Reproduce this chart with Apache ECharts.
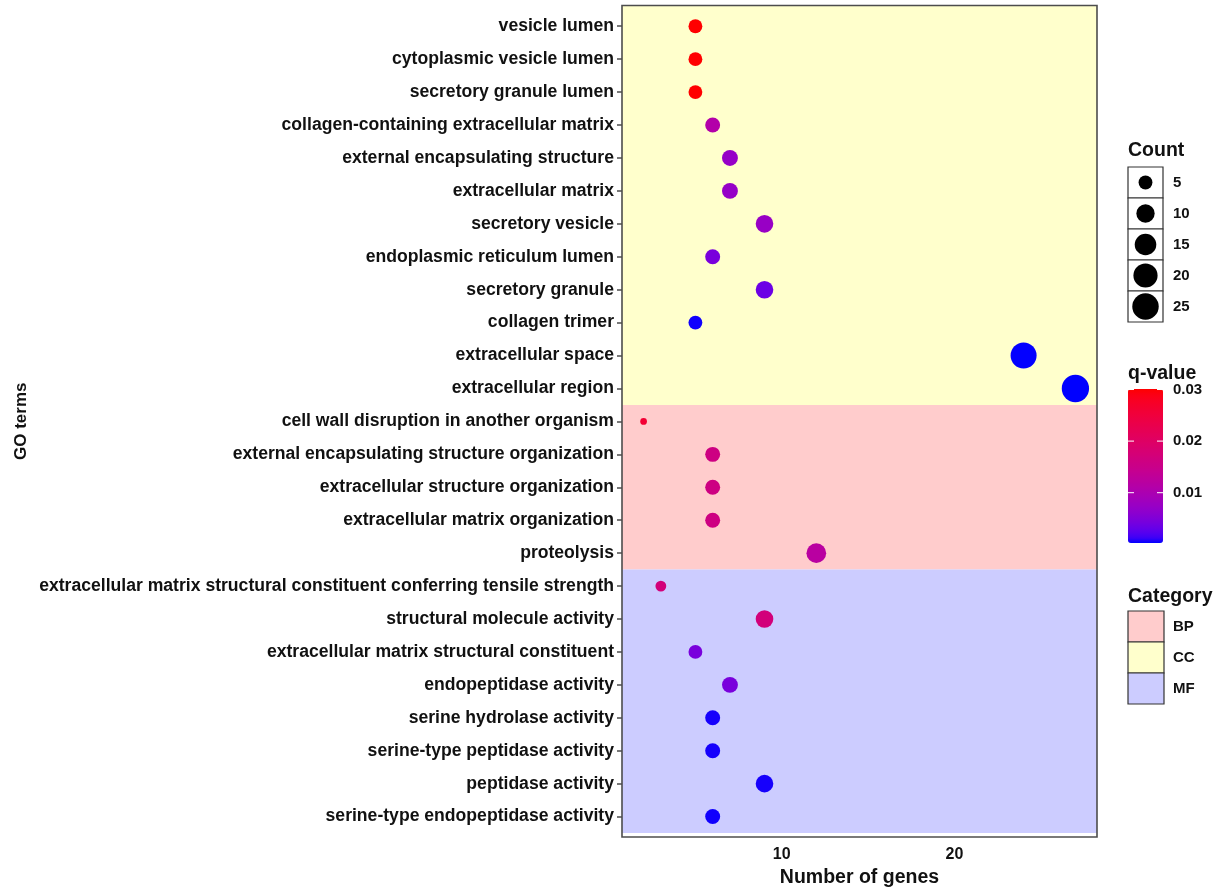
<!DOCTYPE html>
<html><head><meta charset="utf-8">
<script src="https://cdn.jsdelivr.net/npm/echarts@6/dist/echarts.min.js"></script>
<style>html,body{margin:0;padding:0;background:#fff}#c{width:1225px;height:888px}</style>
</head><body><div id="c"></div>
<script>
// ---------------- data ----------------
const terms = [
  'vesicle lumen',
  'cytoplasmic vesicle lumen',
  'secretory granule lumen',
  'collagen-containing extracellular matrix',
  'external encapsulating structure',
  'extracellular matrix',
  'secretory vesicle',
  'endoplasmic reticulum lumen',
  'secretory granule',
  'collagen trimer',
  'extracellular space',
  'extracellular region',
  'cell wall disruption in another organism',
  'external encapsulating structure organization',
  'extracellular structure organization',
  'extracellular matrix organization',
  'proteolysis',
  'extracellular matrix structural constituent conferring tensile strength',
  'structural molecule activity',
  'extracellular matrix structural constituent',
  'endopeptidase activity',
  'serine hydrolase activity',
  'serine-type peptidase activity',
  'peptidase activity',
  'serine-type endopeptidase activity'
];
const counts = [5, 5, 5, 6, 7, 7, 9, 6, 9, 5, 24, 27, 2, 6, 6, 6, 12, 3, 9, 5, 7, 6, 6, 9, 6];
const qvalues = [0.0301, 0.0301, 0.0301, 0.011, 0.0072, 0.0072, 0.0075, 0.0045, 0.0035, 0.0005, 0.0003, 0.00025,
                 0.026, 0.016, 0.016, 0.016, 0.012, 0.017, 0.017, 0.0045, 0.0045, 0.0006, 0.0006, 0.0006, 0.0005];
const categories = ['CC','CC','CC','CC','CC','CC','CC','CC','CC','CC','CC','CC',
                    'BP','BP','BP','BP','BP',
                    'MF','MF','MF','MF','MF','MF','MF','MF'];
const xTicks = [10, 20];
const sizeBreaks = [5, 10, 15, 20, 25];
const qTicks = [0.03, 0.02, 0.01];
const catLevels = ['BP', 'CC', 'MF'];
const catColors = {BP: '#FFCCCC', CC: '#FFFFCC', MF: '#CCCCFF'};

// ---------------- helpers ----------------
const FONT = 'Liberation Sans, Arial, sans-serif';
const cMin = Math.min(...counts), cMax = Math.max(...counts);
function sizeFn(v) { return 6.7 + 20.6 * Math.sqrt(Math.max(0, (v - cMin) / (cMax - cMin))); }
const qMin = Math.min(...qvalues), qMax = Math.max(...qvalues);

function s2l(c){c/=255;return c<=0.04045?c/12.92:Math.pow((c+0.055)/1.055,2.4);}
function l2s(c){c=c<=0.0031308?12.92*c:1.055*Math.pow(c,1/2.4)-0.055;return Math.round(Math.max(0,Math.min(1,c))*255);}
const Xn=0.95047,Yn=1,Zn=1.08883,d0=6/29;
function ff(t){return t>d0*d0*d0?Math.cbrt(t):t/(3*d0*d0)+4/29;}
function fi(t){return t>d0?t*t*t:3*d0*d0*(t-4/29);}
function rgb2lab(rgb){const r=s2l(rgb[0]),g=s2l(rgb[1]),b=s2l(rgb[2]);
  const X=0.4124*r+0.3576*g+0.1805*b,Y=0.2126*r+0.7152*g+0.0722*b,Z=0.0193*r+0.1192*g+0.9505*b;
  const fx=ff(X/Xn),fy=ff(Y/Yn),fz=ff(Z/Zn);return [116*fy-16,500*(fx-fy),200*(fy-fz)];}
function lab2rgb(l){const fy=(l[0]+16)/116,fx=fy+l[1]/500,fz=fy-l[2]/200;
  const X=Xn*fi(fx),Y=Yn*fi(fy),Z=Zn*fi(fz);
  const r=3.2406*X-1.5372*Y-0.4986*Z,g=-0.9689*X+1.8758*Y+0.0415*Z,b=0.0557*X-0.2040*Y+1.0570*Z;
  return 'rgb('+l2s(r)+','+l2s(g)+','+l2s(b)+')';}
const labLo = rgb2lab([0,0,255]), labHi = rgb2lab([255,0,0]);
const gradStops = [];
for (let i = 0; i <= 30; i++) { const t = i/30; gradStops.push(lab2rgb([0,1,2].map(k => labLo[k] + (labHi[k]-labLo[k])*t))); }

// ---------------- layout ----------------
const G = {left: 622, top: 5.5, width: 475, height: 831.5};
const X_MIN = 0.75, X_MAX = 28.25;
const Y_MIN = -0.63, Y_MAX = 24.62;

// category blocks from data
const blocks = [];
categories.forEach((c, i) => {
  const last = blocks[blocks.length - 1];
  if (last && last[2] === c) last[1] = i + 0.5;
  else blocks.push([i - 0.5, i + 0.5, c]);
});
blocks[0][0] = Y_MIN;

const scatterData = counts.map((c, i) => [c, i, qvalues[i]]);
const idx = terms.map((t, i) => i);

// legend graphics
const graphics = [];
const LX = 1128, BW = 35, BH = 31;
function title(txt, y) { graphics.push({type:'text', x: LX, y: y, style:{text: txt, font: 'bold 19.5px ' + FONT, fill:'#111', textVerticalAlign:'middle'}}); }
function lab(txt, y) { graphics.push({type:'text', x: 1173, y: y, style:{text: txt, font: 'bold 15px ' + FONT, fill:'#111', textVerticalAlign:'middle'}}); }
title('Count', 151);
sizeBreaks.forEach((b, i) => {
  const y0 = 167 + i * BH;
  graphics.push({type:'rect', shape:{x: LX, y: y0, width: BW, height: BH}, style:{fill:'#fff', stroke:'#333', lineWidth:1.2}});
  graphics.push({type:'circle', shape:{cx: LX + BW/2, cy: y0 + BH/2, r: sizeFn(b)/2}, style:{fill:'#000'}});
  lab(String(b), y0 + BH/2);
});
title('q-value', 374);
const CB_TOP = 389, CB_H = 154;
qTicks.forEach(q => {
  const y = CB_TOP + CB_H - (q - qMin) / (qMax - qMin) * CB_H;
  lab(String(q), y);
  graphics.push({type:'line', z: 100, shape:{x1: LX, y1: y, x2: LX + 6, y2: y}, style:{stroke:'#fff', lineWidth:1}});
  graphics.push({type:'line', z: 100, shape:{x1: LX + BW - 6, y1: y, x2: LX + BW, y2: y}, style:{stroke:'#fff', lineWidth:1}});
});
title('Category', 597);
catLevels.forEach((c, i) => {
  const y0 = 611 + i * BH;
  graphics.push({type:'rect', shape:{x: LX, y: y0, width: BW + 1, height: BH}, style:{fill: catColors[c], stroke:'#333', lineWidth:1.2}});
  lab(c, y0 + BH/2);
});

const chart = echarts.init(document.getElementById('c'), null, {renderer: 'canvas'});
chart.setOption({
  animation: false,
  backgroundColor: '#fff',
  grid: Object.assign({show: true, z: 10, backgroundColor: 'transparent', borderColor: '#4d4d4d', borderWidth: 1.6,
                       containLabel: false, outerBoundsMode: 'none'}, G),
  xAxis: {
    type: 'value', min: X_MIN, max: X_MAX,
    name: 'Number of genes', nameLocation: 'middle', nameGap: 28,
    nameTextStyle: {fontFamily: FONT, fontWeight: 'bold', fontSize: 19.5, color: '#111'},
    axisLine: {show: false},
    axisTick: {show: true, length: 5, customValues: xTicks, lineStyle: {color: '#4d4d4d', width: 1.5}},
    axisLabel: {customValues: xTicks, margin: 10, fontFamily: FONT, fontWeight: 'bold', fontSize: 16, color: '#111'},
    splitLine: {show: false}
  },
  yAxis: {
    type: 'value', min: Y_MIN, max: Y_MAX, inverse: true,
    name: 'GO terms', nameLocation: 'middle', nameGap: 592, nameRotate: 90,
    nameTextStyle: {fontFamily: FONT, fontWeight: 'bold', fontSize: 17, color: '#111'},
    axisLine: {show: false},
    axisTick: {show: true, length: 5, customValues: idx, lineStyle: {color: '#4d4d4d', width: 1.5}},
    axisLabel: {customValues: idx, margin: 8, formatter: v => terms[Math.round(v)],
                fontFamily: FONT, fontWeight: 'bold', fontSize: 17.6, color: '#111'},
    splitLine: {show: false}
  },
  visualMap: {
    type: 'continuous', min: qMin, max: qMax, dimension: 2, seriesIndex: 1,
    inRange: {color: gradStops}, orient: 'vertical', left: LX, top: CB_TOP,
    itemWidth: BW, itemHeight: CB_H, padding: 0, calculable: false, hoverLink: false,
    textStyle: {color: 'transparent'}
  },
  series: [
    {
      type: 'custom', z: 1, silent: true,
      data: blocks.map(b => [b[0], b[1], catLevels.indexOf(b[2])]),
      encode: {y: [0, 1]},
      renderItem: function (params, api) {
        const p0 = api.coord([X_MIN, api.value(0)]);
        const p1 = api.coord([X_MAX, api.value(1)]);
        return {type: 'rect', shape: {x: p0[0], y: p0[1], width: p1[0] - p0[0], height: p1[1] - p0[1]},
                style: {fill: catColors[catLevels[api.value(2)]]}};
      }
    },
    {
      type: 'scatter', z: 2,
      data: scatterData,
      symbol: 'circle',
      symbolSize: v => sizeFn(v[0]),
      itemStyle: {opacity: 1}
    }
  ],
  graphic: graphics
});
</script>
</body></html>
